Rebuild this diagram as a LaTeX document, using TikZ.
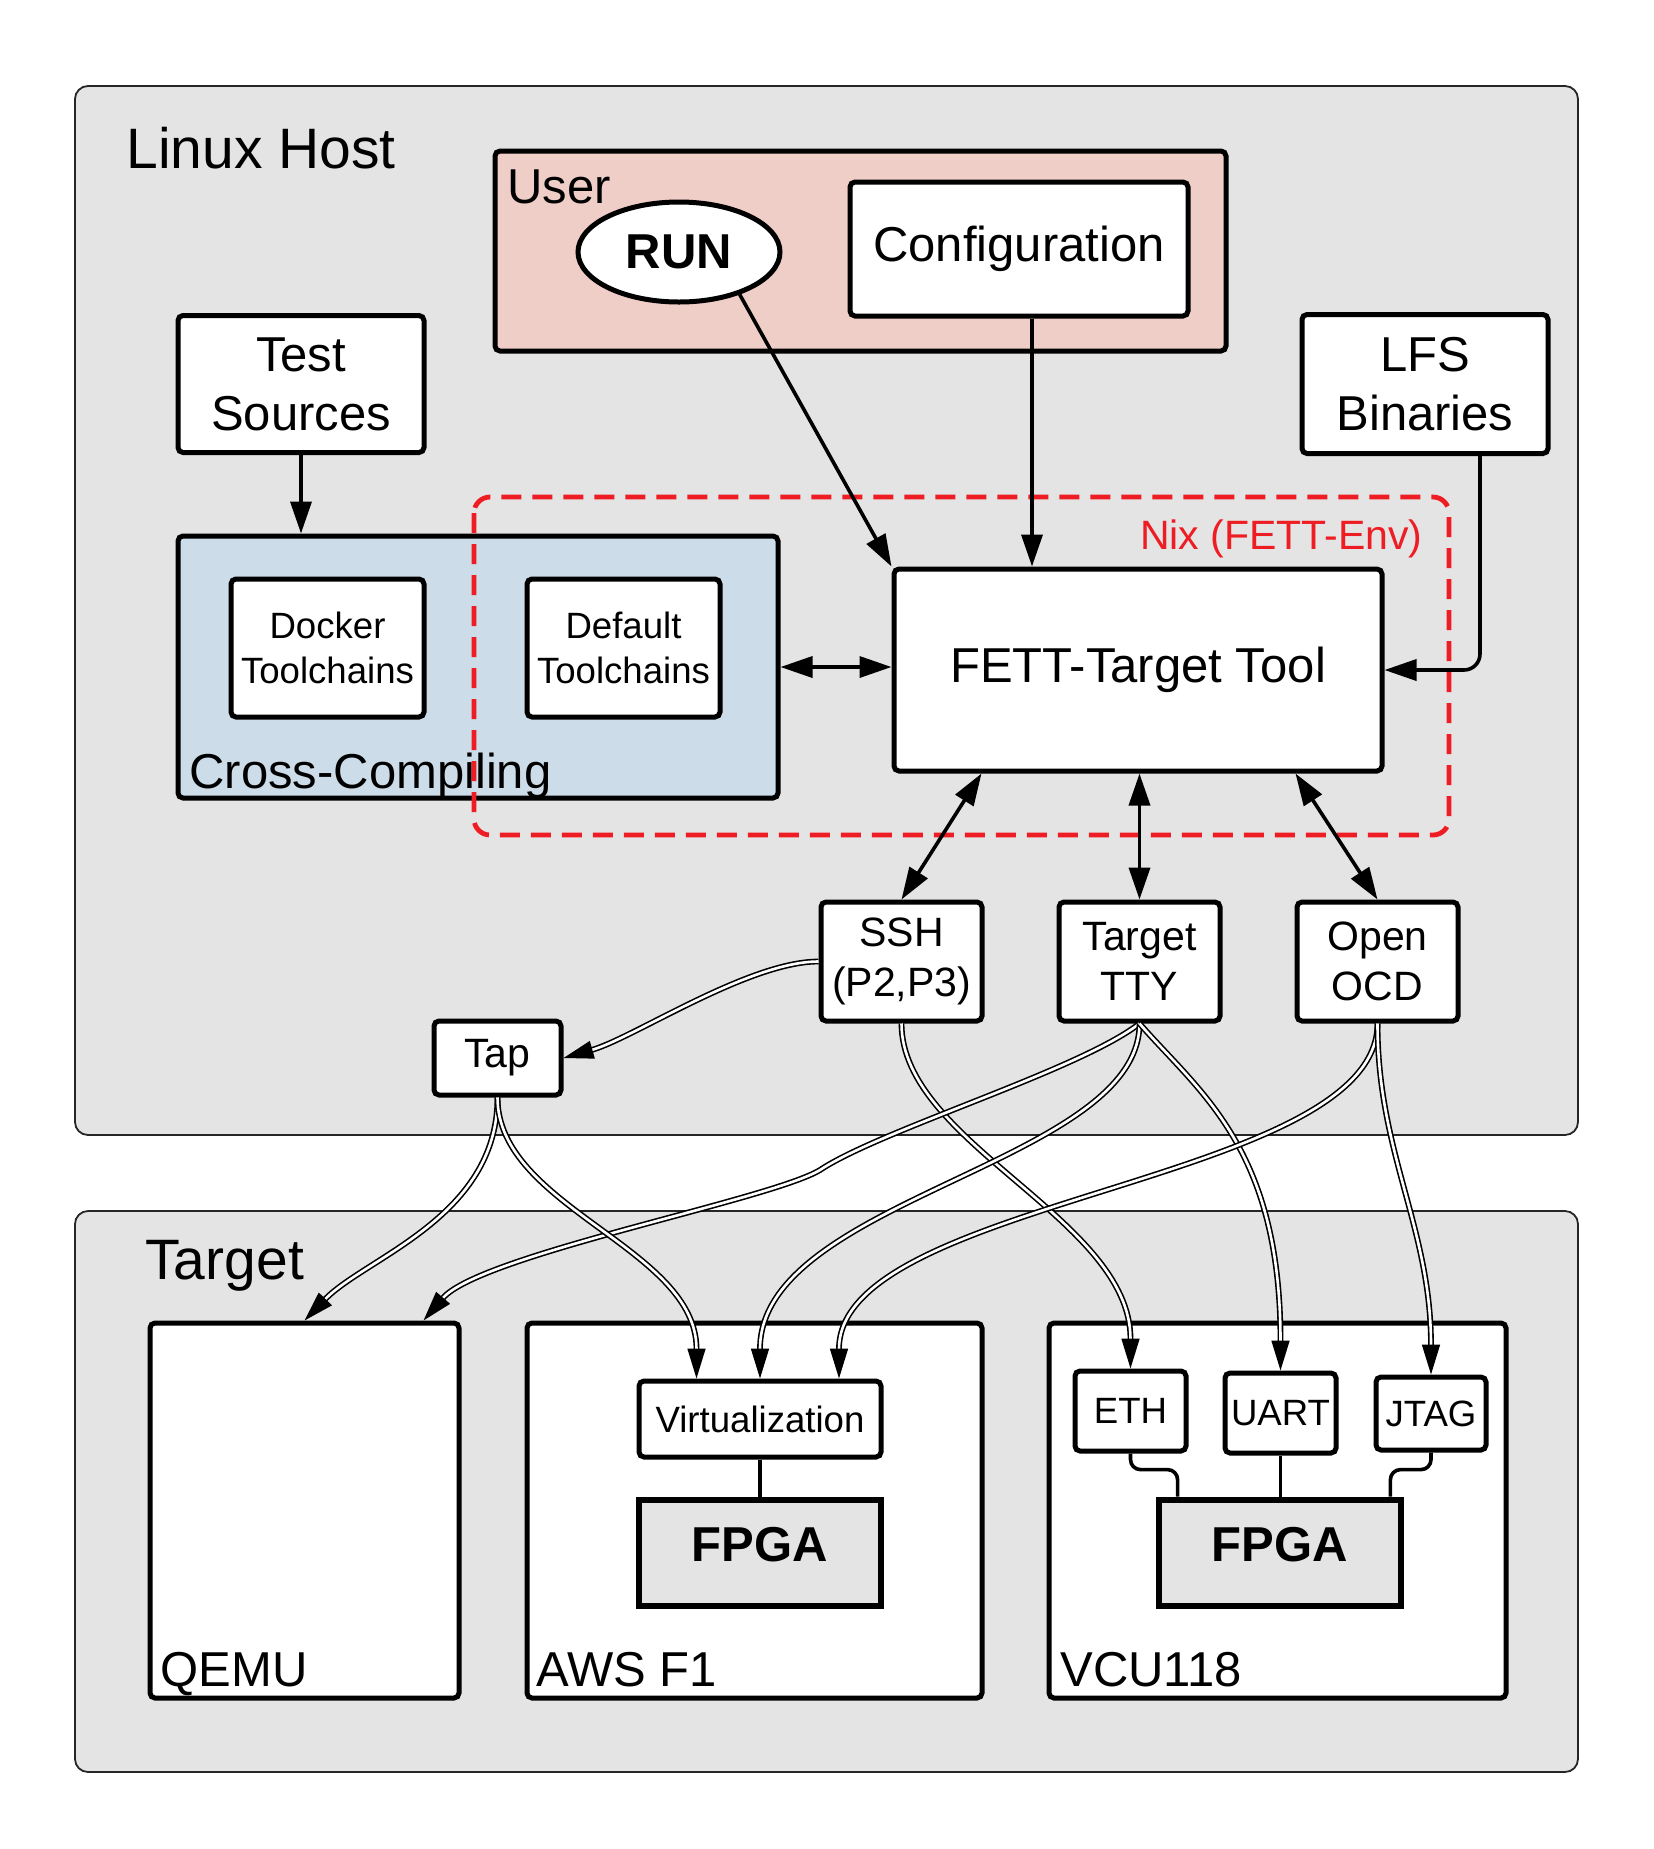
\documentclass[tikz,border=0pt]{standalone}
\usepackage{fontspec}
\setmainfont{Liberation Sans}
\usetikzlibrary{calc,arrows.meta,shapes.geometric}
\definecolor{hostgray}{HTML}{E4E4E4}
\definecolor{userpink}{HTML}{F0CEC8}
\definecolor{crossblue}{HTML}{CCDCE8}
\definecolor{nixred}{HTML}{EE1C23}

\begin{document}
\begin{tikzpicture}[x=0.5pt, y=-0.5pt, >={Triangle[length=16pt,width=10.5pt]},
  panel/.style={draw=black!85, line width=0.9pt, fill=hostgray, rounded corners=6.5pt},
  box/.style={draw, line width=2.5pt, fill=white, rounded corners=2.5pt, align=center, inner sep=2pt, font=\fontsize{24.5}{29.5}\selectfont},
  midbox/.style={box, font=\fontsize{20.5}{24.8}\selectfont},
  tinybox/.style={box, font=\fontsize{18.3}{22.4}\selectfont},
  fpga/.style={draw, line width=3.4pt, fill=hostgray, minimum width=121pt, minimum height=53pt, text height=17.5pt, text depth=9pt, font=\bfseries\fontsize{24.5}{29.5}\selectfont},
  title/.style={anchor=base west, inner sep=0pt, font=\fontsize{28.5}{34}\selectfont},
  tag/.style={anchor=base west, inner sep=0pt, font=\fontsize{24.5}{29.5}\selectfont},
  arr/.style={line width=1.8pt, ->},
  link/.style={double, double distance=1.3pt, line width=0.8pt, -{Triangle[length=15pt,width=9pt]}}]
\fill[white] (0,0) rectangle (1654,1849);
\useasboundingbox (0,0) rectangle (1654,1849);

% Khung nền
\draw[panel] (75,86) rectangle (1578,1135);
\draw[panel] (75,1211) rectangle (1578,1772);
\node[title] (hosttitle) at (126,168) {Linux Host};
\node[title] (targettitle) at (145,1279) {Target};

% Người dùng
\node[box, fill=userpink, minimum width=365.5pt, minimum height=100pt] (user) at (860.5,251) {};
\node[tag] (usertitle) at (507,203) {User};
\node[draw, ellipse, line width=2.5pt, fill=white, minimum width=101pt, minimum height=50pt, font=\bfseries\fontsize{24.5}{29.5}\selectfont] (run) at (679,252) {RUN};
\node[box, minimum width=169pt, minimum height=67pt] (config) at (1019,249) {Configuration};

\node[box, minimum width=123pt, minimum height=68.5pt] (tests) at (301,384) {Test\\Sources};
\node[box, minimum width=123pt, minimum height=69.5pt] (lfs) at (1425,384) {LFS\\Binaries};

% Biên dịch chéo
\node[box, fill=crossblue, minimum width=300pt, minimum height=131pt] (cross) at (478,667) {};
\node[tag] (crosstitle) at (189,788) {Cross-Compiling};
\node[tinybox, minimum width=96.5pt, minimum height=69pt] (docker) at (327.5,648) {Docker\\Toolchains};
\node[tinybox, minimum width=96.5pt, minimum height=69pt] (default) at (623.5,648) {Default\\Toolchains};

% Vùng Nix
\draw[nixred, line width=2.4pt, dash pattern=on 10pt off 5.5pt, rounded corners=8pt] (474,497) rectangle (1449,835);
\node[anchor=base east, inner sep=0pt, text=nixred, font=\fontsize{20.5}{24.8}\selectfont] (nixtitle) at (1423,549) {Nix (FETT-Env)};

\node[box, minimum width=244pt, minimum height=101pt] (fett) at (1138,670) {FETT-Target Tool};
\node[midbox, minimum width=80.5pt, minimum height=59.5pt] (ssh) at (901.5,961.5) {SSH\\(P2,P3)};
\node[midbox, minimum width=80.5pt, minimum height=59.5pt] (tty) at (1139.5,961.5) {Target\\TTY};
\node[midbox, minimum width=80.5pt, minimum height=59.5pt] (ocd) at (1377.5,961.5) {Open\\OCD};
\node[midbox, minimum width=63.5pt, minimum height=37pt] (tap) at (497.5,1058) {Tap};

% Phần cứng đích
\node[box, minimum width=154.5pt, minimum height=187.5pt] (qemu) at (304.5,1510.5) {};
\node[box, minimum width=227.5pt, minimum height=187.5pt] (aws) at (754.5,1510.5) {};
\node[box, minimum width=228.5pt, minimum height=187.5pt] (vcu) at (1277.5,1510.5) {};
\node[tag] (qemutitle) at (160,1686) {QEMU};
\node[tag] (awstitle) at (536,1686) {AWS F1};
\node[tag] (vcutitle) at (1060,1686) {VCU118};
\node[tinybox, minimum width=121pt, minimum height=38pt] (virt) at (760,1419) {Virtualization};
\node[fpga] (fpgaA) at (760,1553) {FPGA};
\node[tinybox, minimum width=55.5pt, minimum height=40pt] (eth) at (1130.5,1411) {ETH};
\node[tinybox, minimum width=55.5pt, minimum height=40pt] (uart) at (1280.5,1413) {UART};
\node[tinybox, minimum width=55pt, minimum height=36.5pt] (jtag) at (1431,1413.5) {JTAG};
\node[fpga] (fpgaV) at (1280,1553) {FPGA};

\draw[line width=2.4pt] (virt.south) -- (fpgaA.north);
\draw[line width=1.8pt, rounded corners=5pt] (eth.south) |- ($(fpgaV.north west)+(22,-27)$) -- ($(fpgaV.north west)+(22,0)$);
\draw[line width=1.8pt] (uart.south) -- (uart.south |- fpgaV.north);
\draw[line width=1.8pt, rounded corners=5pt] (jtag.south) |- ($(fpgaV.north east)+(-14,-27)$) -- ($(fpgaV.north east)+(-14,0)$);

% Mũi tên thẳng
\draw[arr] (run.-35) -- (fett.north west);
\draw[arr] ($(config.south)+(13,0)$) -- ($(config.south |- fett.north)+(13,0)$);
\draw[arr] (tests.south) -- (tests.south |- cross.north);
\draw[arr, rounded corners=8pt] ($(lfs.south)+(55,0)$) |- (fett.east);
\draw[arr, <->] (cross.east) -- (cross.east -| fett.west);
\draw[arr, <->] ($(fett.south west)+(90,0)$) -- (ssh.north);
\draw[arr, <->] (fett.south -| tty.north) -- (tty.north);
\draw[arr, <->] ($(fett.south east)+(-89,0)$) -- (ocd.north);

% Đường nối đôi
\draw[link] (ssh.west) .. controls +(-70,0) and +(70,-20) .. (tap.east);
\draw[link] (ssh.south) .. controls +(0,120) and +(0,-150) .. (eth.north);
\draw[link] (tty.south) .. controls (1080,1070) and (880,1130) .. (820,1170) .. controls (770,1200) and (480,1255) .. ($(qemu.north east)+(-38,0)$);
\draw[link] (tty.south) .. controls +(0,140) and +(0,-180) .. (virt.north);
\draw[link] (tty.south) .. controls +(60,69) and +(0,-223) .. (uart.north);
\draw[link] (ocd.south) .. controls +(0,160) and +(0,-181) .. ($(virt.north)+(79,0)$);
\draw[link] (ocd.south) .. controls +(0,130) and +(0,-147) .. (jtag.north);
\draw[link] (tap.south) .. controls +(0,120) and +(61,-63) .. (qemu.north);
\draw[link] (tap.south) .. controls +(0,110) and +(0,-131) .. ($(virt.north west)+(60,0)$);
\end{tikzpicture}
\end{document}
